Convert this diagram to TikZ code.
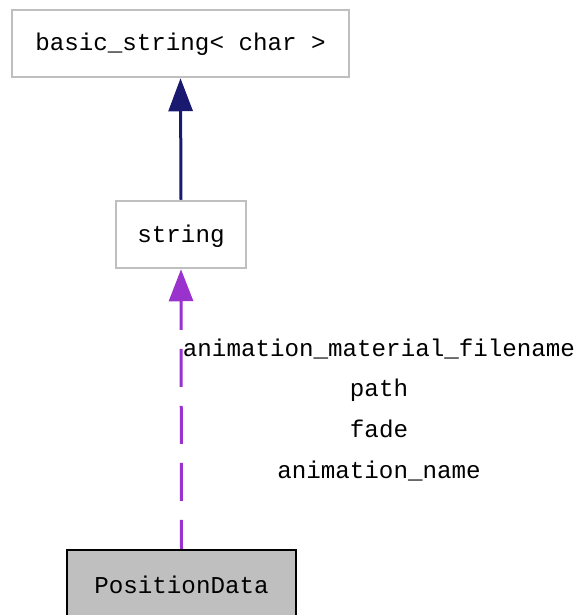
\documentclass[tikz,border=0pt]{standalone}
\usepackage{fontspec}
\setmainfont{Liberation Mono}
\usetikzlibrary{arrows.meta}
\definecolor{boxgray}{RGB}{191,191,191}
\definecolor{navyline}{RGB}{25,25,112}
\definecolor{orchidline}{RGB}{154,50,205}
\begin{document}
\begin{tikzpicture}[x=1pt,y=-1pt,
  font=\fontsize{24.2}{29}\selectfont,
  classbox/.style={draw=boxgray,fill=white,line width=2.5pt,inner sep=0pt,
    minimum height=67pt,text height=19pt,text depth=4pt},
  mainbox/.style={classbox,draw=black,fill=boxgray,minimum height=72pt},
  inherit/.style={draw=navyline,line width=3pt,-{Triangle[length=33pt,width=24pt]}},
  member/.style={draw=orchidline,line width=3pt,dash pattern=on 38pt off 19pt,
    dash phase=9pt,-{Triangle[length=32pt,width=24pt]}},
  memberlabel/.style={anchor=base,inner sep=0pt}]
\useasboundingbox (0,0) rectangle (579,615);
\clip (0,0) rectangle (579,615);
\node[classbox,minimum width=337pt] (basic) at (180.5,43.5) {basic\_string< char >};
\node[classbox,minimum width=130pt] (str) at (181,234.5) {string};
\node[mainbox,minimum width=229pt] (posdata) at (181.5,586) {PositionData};
\draw[inherit] (str.north) -- (basic.south);
\draw[member] (posdata.north) -- (str.south);
\node[memberlabel] (lblfile) at (379,356) {animation\_material\_filename};
\node[memberlabel] (lblpath) at (379,396) {path};
\node[memberlabel] (lblfade) at (379,437) {fade};
\node[memberlabel] (lblname) at (379,478) {animation\_name};
\end{tikzpicture}
\end{document}
